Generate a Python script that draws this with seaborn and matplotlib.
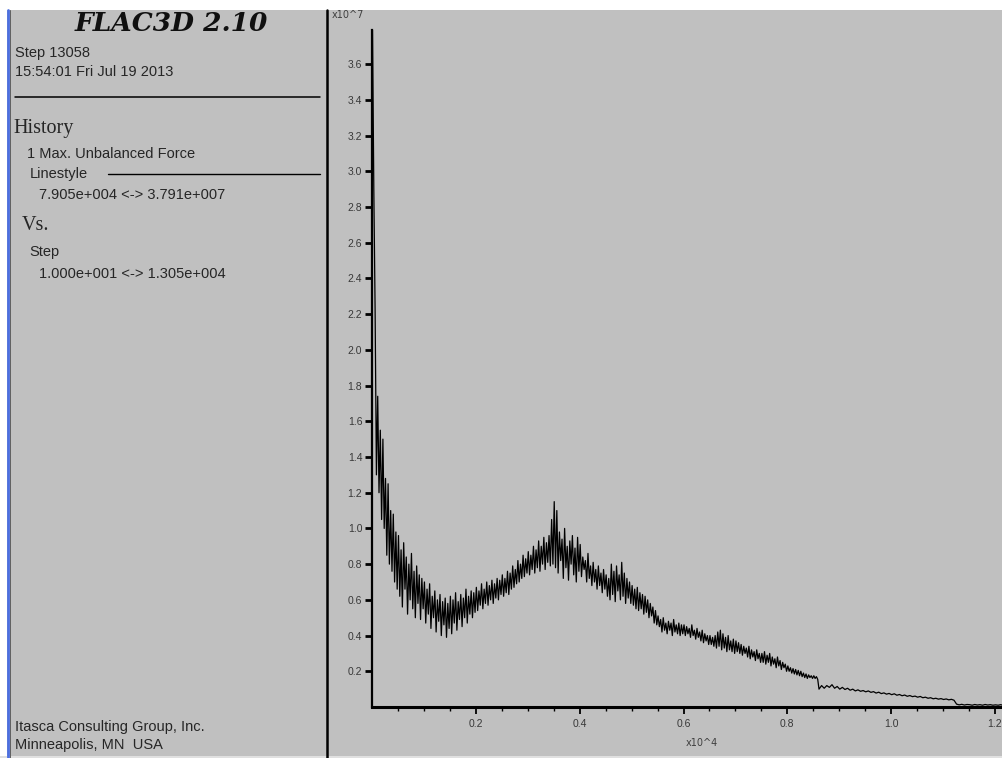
import numpy as np
import matplotlib
matplotlib.use("Agg")
import matplotlib.pyplot as plt
import seaborn as sns
from matplotlib.lines import Line2D
from matplotlib.patches import Rectangle
from matplotlib.ticker import FixedLocator

# ---------------- data (steps in x10^4, force in x10^7) ----------------
# early, noisy part of the history (read every 0.0025 x10^4 steps)
early_start = 0.001
early_interval = 0.0025
force_early = [
    3.79, 2.90, 2.22, 1.30, 1.74, 1.20, 1.55, 1.05, 1.50, 1.00,
    1.28, 0.85, 1.25, 0.80, 1.10, 0.76, 1.08, 0.70, 0.98, 0.66,
    0.96, 0.62, 0.88, 0.56, 0.92, 0.66, 0.84, 0.52, 0.80, 0.60,
    0.86, 0.55, 0.76, 0.50, 0.79, 0.58, 0.74, 0.49, 0.72, 0.55,
    0.70, 0.47, 0.66, 0.52, 0.69, 0.44, 0.62, 0.50, 0.65, 0.42,
    0.60, 0.48, 0.63, 0.40, 0.59, 0.46, 0.61, 0.39, 0.58, 0.44,
    0.62, 0.41, 0.60, 0.47, 0.64, 0.43, 0.59, 0.49, 0.63, 0.45,
    0.61, 0.50, 0.66, 0.47, 0.62, 0.52, 0.65, 0.50, 0.64, 0.53,
    0.67, 0.54, 0.65, 0.57, 0.69, 0.55, 0.66, 0.58, 0.70, 0.57,
    0.68, 0.60, 0.71, 0.58, 0.69, 0.61, 0.72, 0.60, 0.71, 0.63,
    0.74, 0.62, 0.72, 0.64, 0.76, 0.63, 0.75, 0.66, 0.79, 0.67,
    0.77, 0.69, 0.82, 0.70, 0.80, 0.72, 0.85, 0.73, 0.83, 0.75,
    0.87, 0.74, 0.85, 0.77, 0.90, 0.75, 0.88, 0.78, 0.93, 0.76,
    0.90, 0.80, 0.95, 0.77, 0.92, 0.81, 0.96, 0.79, 1.05, 0.80,
    1.15, 0.78, 1.10, 0.75, 0.98, 0.82, 0.94, 0.72, 1.00, 0.78,
    0.90, 0.71, 0.93, 0.80, 0.96, 0.74, 0.89, 0.70, 0.95, 0.76,
    0.91, 0.73, 0.84, 0.77, 0.82, 0.70, 0.86, 0.72, 0.79, 0.68,
    0.81, 0.70, 0.77, 0.66, 0.79, 0.68, 0.75, 0.64, 0.77, 0.66,
    0.74, 0.62, 0.72, 0.60, 0.80, 0.63, 0.76, 0.59, 0.79, 0.65,
    0.74, 0.60, 0.81, 0.62, 0.75, 0.58, 0.72, 0.61, 0.70, 0.58,
    0.68, 0.57, 0.66, 0.55, 0.67, 0.54, 0.64, 0.55, 0.63, 0.52,
    0.62, 0.53, 0.60, 0.50, 0.58, 0.51, 0.56, 0.47, 0.54, 0.46,
    0.51, 0.45, 0.49, 0.42, 0.50, 0.43, 0.47, 0.41, 0.48, 0.43,
    0.47, 0.40, 0.49, 0.42, 0.46, 0.41, 0.47, 0.40, 0.46, 0.41,
    0.46, 0.40, 0.45, 0.41, 0.44, 0.39, 0.46, 0.40, 0.43, 0.38,
    0.44, 0.39, 0.42, 0.37, 0.43, 0.36, 0.41, 0.37, 0.40, 0.35,
    0.40, 0.35, 0.39, 0.34, 0.40, 0.33, 0.42, 0.34, 0.43, 0.32,
    0.41, 0.33, 0.39, 0.31, 0.40, 0.32, 0.37, 0.31, 0.38, 0.30,
    0.37, 0.31, 0.36, 0.30, 0.35, 0.29, 0.34, 0.30, 0.33, 0.28,
    0.34, 0.27, 0.32, 0.28, 0.31, 0.26, 0.32, 0.27, 0.30, 0.25,
    0.30, 0.25, 0.31, 0.24, 0.29, 0.25, 0.30, 0.23, 0.28, 0.24,
    0.27, 0.22, 0.28, 0.23, 0.26, 0.21, 0.25, 0.22, 0.24, 0.20,
    0.23, 0.20, 0.22, 0.19, 0.215, 0.185, 0.21, 0.18, 0.205, 0.175,
    0.20, 0.17, 0.19, 0.165, 0.185, 0.16, 0.18, 0.165, 0.175, 0.16,
    0.175, 0.16, 0.17, 0.155,
]
# late, smoother part of the history (read every 0.005 x10^4 steps)
late_start = 0.861
late_interval = 0.005
force_late = [
    0.10, 0.12, 0.105, 0.12, 0.11, 0.125, 0.105, 0.115,
    0.10, 0.11, 0.098, 0.105, 0.094, 0.10, 0.09, 0.096, 0.088, 0.092,
    0.085, 0.09, 0.082, 0.086, 0.078, 0.083, 0.075, 0.079, 0.072, 0.076,
    0.069, 0.074, 0.066, 0.07, 0.063, 0.067, 0.06, 0.064, 0.058, 0.061,
    0.055, 0.059, 0.052, 0.055, 0.049, 0.052, 0.046, 0.049, 0.044, 0.047,
    0.042, 0.045, 0.040, 0.043, 0.038, 0.016, 0.012, 0.015, 0.011, 0.014,
    0.013, 0.010, 0.014, 0.011, 0.013, 0.010, 0.014, 0.011, 0.013, 0.010,
    0.012, 0.010, 0.013, 0.009, 0.012, 0.010, 0.012, 0.009, 0.011, 0.010,
    0.011, 0.009, 0.010, 0.009, 0.010, 0.008, 0.010, 0.009, 0.009, 0.008,
    0.008,
]
steps = np.concatenate([
    early_start + early_interval * np.arange(len(force_early)),
    late_start + late_interval * np.arange(len(force_late)),
])
force = np.array(force_early + force_late)

x_ticks = [0.2, 0.4, 0.6, 0.8, 1.0, 1.2]
x_tick_labels = ["0.2", "0.4", "0.6", "0.8", "1.0", "1.2"]
x_minor_ticks = [0.05, 0.1, 0.15, 0.25, 0.3, 0.35, 0.45, 0.5, 0.55, 0.65,
                 0.7, 0.75, 0.85, 0.9, 0.95, 1.05, 1.1, 1.15]
y_ticks = [0.2, 0.4, 0.6, 0.8, 1.0, 1.2, 1.4, 1.6, 1.8, 2.0, 2.2, 2.4,
           2.6, 2.8, 3.0, 3.2, 3.4, 3.6]
y_tick_labels = [f"{v:.1f}" for v in y_ticks]
x_limits = (0.0, 1.2154)
y_limits = (0.0, 3.791)

header_title = "FLAC3D 2.10"
header_lines = ["Step 13058", "15:54:01 Fri Jul 19 2013"]
history_items = ["1 Max. Unbalanced Force", "Linestyle",
                 "7.905e+004 <-> 3.791e+007"]
vs_items = ["Step", "1.000e+001 <-> 1.305e+004"]
footer_lines = ["Itasca Consulting Group, Inc.", "Minneapolis, MN  USA"]

# ---------------- styling ----------------
BG = "#C0C0C0"
sns.set_theme(style="white", rc={"axes.facecolor": BG, "figure.facecolor": BG})
plt.rcParams["font.family"] = ["Liberation Sans", "DejaVu Sans"]

W, H = 1003, 758
fig = plt.figure(figsize=(W / 100, H / 100), dpi=100)


def fx(px):
    return px / W


def fy(py):
    return 1 - py / H


ax_left, ax_right, ax_top, ax_bottom = 372, 1003, 30, 707
ax = fig.add_axes([fx(ax_left), fy(ax_bottom), fx(ax_right - ax_left),
                   (ax_bottom - ax_top) / H])
ax.set_facecolor(BG)

sns.lineplot(x=steps, y=force, ax=ax, color="black", linewidth=0.9,
             estimator=None, sort=False)

ax.set_xlim(*x_limits)
ax.set_ylim(*y_limits)
ax.xaxis.set_major_locator(FixedLocator(x_ticks))
ax.set_xticklabels(x_tick_labels)
ax.xaxis.set_minor_locator(FixedLocator(x_minor_ticks))
ax.yaxis.set_major_locator(FixedLocator(y_ticks))
ax.set_yticklabels(y_tick_labels)

for s in ["top", "right"]:
    ax.spines[s].set_visible(False)
ax.spines["left"].set_color("black")
ax.spines["left"].set_linewidth(1.6)
ax.spines["bottom"].set_color("black")
ax.spines["bottom"].set_linewidth(2.2)

ax.tick_params(axis="y", which="major", direction="out", length=5, width=2.0,
               color="black", labelsize=7.5, labelcolor="#383838", pad=2, left=True)
ax.tick_params(axis="x", which="major", direction="out", length=5, width=1.3,
               color="black", labelsize=7.5, labelcolor="#383838", pad=3.5, bottom=True)
ax.tick_params(axis="x", which="minor", direction="out", length=3, width=1.0,
               color="black", bottom=True)
ax.set_xlabel("")
ax.set_ylabel("")

fig.text(fx(332), fy(15), "x10^7", fontsize=7, color="#404040",
         ha="left", va="center", family=["DejaVu Sans"])
fig.text(fx(702), fy(743), "x10^4", fontsize=7, color="#404040",
         ha="center", va="center", family=["DejaVu Sans"])

# ---------------- frame decorations ----------------
fig.patches.append(Rectangle((0, fy(10)), 1, 10 / H, transform=fig.transFigure,
                             facecolor="white", edgecolor="none", zorder=0))
fig.patches.append(Rectangle((0, 0), fx(7), 1, transform=fig.transFigure,
                             facecolor="white", edgecolor="none", zorder=0))
fig.patches.append(Rectangle((0, 0), 1, 2 / H, transform=fig.transFigure,
                             facecolor="#E0E0E0", edgecolor="none", zorder=0))
fig.add_artist(Line2D([fx(8), fx(8)], [0, fy(10)], transform=fig.transFigure,
                      color="#4C6FE0", linewidth=2.0))
fig.add_artist(Line2D([fx(10), fx(10)], [0, fy(10)], transform=fig.transFigure,
                      color="#606060", linewidth=0.7))
fig.add_artist(Line2D([fx(327), fx(327)], [0, fy(10)], transform=fig.transFigure,
                      color="black", linewidth=1.8))

# ---------------- left info panel ----------------
TXT = 10.5
fig.text(fx(171), fy(31), header_title, fontsize=19, fontweight="bold",
         fontstyle="italic", family=["DejaVu Serif"], ha="center", va="baseline",
         color="#101010")
fig.text(fx(15), fy(53), header_lines[0], fontsize=TXT, ha="left", va="center")
fig.text(fx(15), fy(72), header_lines[1], fontsize=TXT, ha="left", va="center")
fig.add_artist(Line2D([fx(15), fx(320)], [fy(97), fy(97)],
                      transform=fig.transFigure, color="black", linewidth=1.1))

fig.text(fx(13), fy(128), "History", fontsize=14.5, family=["Liberation Serif"],
         ha="left", va="center")
fig.text(fx(27), fy(154), history_items[0], fontsize=TXT, ha="left", va="center")
fig.text(fx(30), fy(174), history_items[1], fontsize=TXT, ha="left", va="center")
fig.add_artist(Line2D([fx(108), fx(320)], [fy(174), fy(174)],
                      transform=fig.transFigure, color="black", linewidth=1.0))
fig.text(fx(39), fy(195), history_items[2], fontsize=TXT, ha="left", va="center")

fig.text(fx(22), fy(226), "Vs.", fontsize=14.5, family=["Liberation Serif"],
         ha="left", va="center")
fig.text(fx(29), fy(252), vs_items[0], fontsize=TXT, ha="left", va="center")
fig.text(fx(39), fy(274), vs_items[1], fontsize=TXT, ha="left", va="center")

fig.text(fx(15), fy(727), footer_lines[0], fontsize=TXT, ha="left", va="center")
fig.text(fx(15), fy(745), footer_lines[1], fontsize=TXT, ha="left", va="center")

fig.savefig("out.png", dpi=100, facecolor=BG)
